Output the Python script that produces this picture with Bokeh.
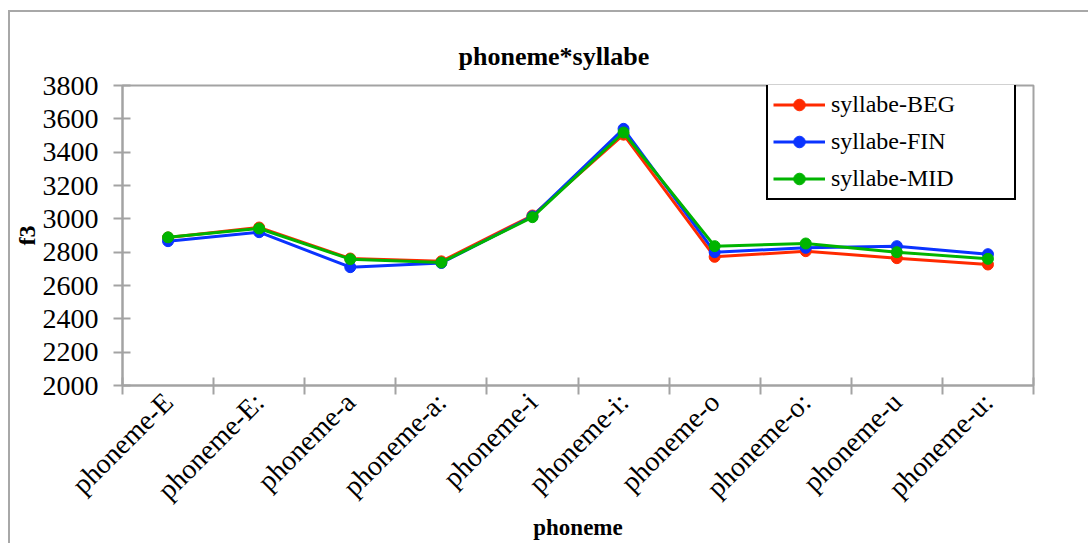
from bokeh.plotting import figure
from bokeh.models import Range1d, FixedTicker, Legend, LegendItem
from bokeh.embed import file_html
from bokeh.resources import INLINE

categories = ["phoneme-E", "phoneme-E:", "phoneme-a", "phoneme-a:", "phoneme-i",
              "phoneme-i:", "phoneme-o", "phoneme-o:", "phoneme-u", "phoneme-u:"]
beg = [2888, 2948, 2762, 2745, 3020, 3505, 2772, 2806, 2764, 2726]
fin = [2866, 2920, 2710, 2735, 3015, 3540, 2800, 2826, 2836, 2788]
mid = [2889, 2942, 2758, 2738, 3010, 3518, 2836, 2852, 2800, 2760]
series_names = ["syllabe-BEG", "syllabe-FIN", "syllabe-MID"]
series_colors = ["#FF2A00", "#0A33FF", "#00B400"]
y_ticks = [2000, 2200, 2400, 2600, 2800, 3000, 3200, 3400, 3600, 3800]

centers = [i + 0.5 for i in range(len(categories))]
bounds = [float(i) for i in range(len(categories) + 1)]

FONT = "Liberation Serif"
GRAY = "#a3a3a3"

p = figure(width=1078, height=530, output_backend="svg", toolbar_location=None,
           x_range=Range1d(0, len(categories)), y_range=Range1d(2000, 3800),
           frame_width=911, frame_height=300,
           min_border_left=108, min_border_top=73, min_border_right=59, min_border_bottom=157,
           title="phoneme*syllabe")
p.styles = {"margin-left": "8px", "margin-top": "10px",
            "border-left": "2px solid #a8a8a8", "border-top": "2px solid #a8a8a8"}

p.title.text_font = FONT
p.title.text_font_style = "bold"
p.title.text_font_size = "26px"
p.title.text_color = "black"
p.title.align = "left"
p.title.offset = 336
p.title.standoff = 30

p.xgrid.visible = False
p.ygrid.visible = False
p.outline_line_color = GRAY
p.outline_line_width = 2

# y axis
ya = p.yaxis[0]
ya.ticker = FixedTicker(ticks=y_ticks)
ya.axis_line_color = GRAY
ya.axis_line_width = 2
ya.major_tick_line_color = GRAY
ya.major_tick_line_width = 2
ya.major_tick_in = 8
ya.major_tick_out = 9
ya.minor_tick_line_color = None
ya.major_label_text_font = FONT
ya.major_label_text_font_size = "28px"
ya.major_label_text_color = "black"
ya.major_label_standoff = 15
ya.axis_label = "f3"
ya.axis_label_text_font = FONT
ya.axis_label_text_font_style = "bold"
ya.axis_label_text_font_size = "24px"
ya.axis_label_text_color = "black"
ya.axis_label_standoff = 0

# x axis
xa = p.xaxis[0]
xa.ticker = FixedTicker(ticks=centers, minor_ticks=bounds)
xa.major_label_overrides = {c: lbl for c, lbl in zip(centers, categories)}
xa.axis_line_color = GRAY
xa.axis_line_width = 2
xa.major_tick_line_color = None
xa.major_tick_in = 0
xa.major_tick_out = 0
xa.minor_tick_line_color = GRAY
xa.minor_tick_line_width = 2
xa.minor_tick_in = 8
xa.minor_tick_out = 9
xa.major_label_orientation = 0.785398
xa.major_label_text_font = FONT
xa.major_label_text_font_size = "28px"
xa.major_label_text_color = "black"
xa.major_label_standoff = 3
xa.axis_label = "phoneme"
xa.axis_label_text_font = FONT
xa.axis_label_text_font_style = "bold"
xa.axis_label_text_font_size = "23px"
xa.axis_label_text_color = "black"
xa.axis_label_standoff = -4

items = []
for name, vals, col in zip(series_names, [beg, fin, mid], series_colors):
    l = p.line(centers, vals, line_color=col, line_width=3)
    s = p.scatter(centers, vals, size=11, fill_color=col, line_color=col)
    items.append(LegendItem(label=name, renderers=[l, s]))

legend = Legend(items=items, location=(644, 185))
legend.border_line_color = "black"
legend.border_line_alpha = 1
legend.border_line_width = 2.5
legend.background_fill_alpha = 1
legend.label_text_font = FONT
legend.label_text_font_size = "24px"
legend.label_text_color = "black"
legend.glyph_width = 52
legend.glyph_height = 29
legend.spacing = 8
legend.padding = 5
legend.label_standoff = 6
legend.label_width = 178
p.add_layout(legend)

open("out.html", "w").write(file_html(p, INLINE))
